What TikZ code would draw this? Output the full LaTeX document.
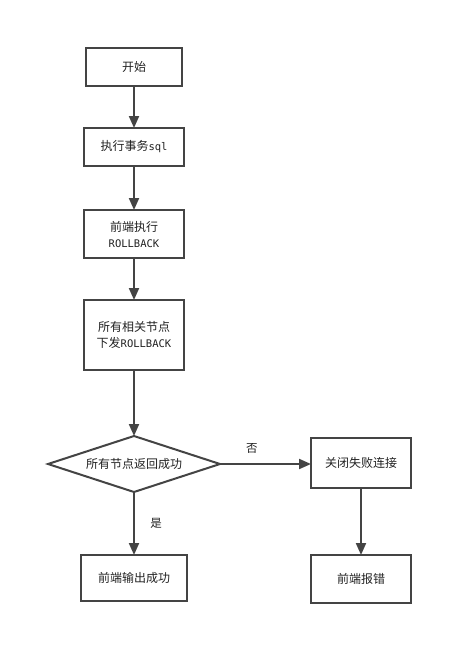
\documentclass[tikz,border=0pt]{standalone}
\usepackage{fontspec}
\setmainfont{Noto Sans CJK SC}
\newfontfamily\monofont{DejaVu Sans Mono}
\usetikzlibrary{shapes.geometric,arrows.meta}
\definecolor{ln}{HTML}{444444}
\definecolor{tx}{HTML}{222222}
\newcommand{\mono}[1]{{\monofont\fontsize{10.5}{14}\selectfont #1}}
\tikzset{
  box/.style={draw=ln, line width=2pt, fill=white, rectangle, minimum width=#1, align=center, font=\fontsize{12}{16}\selectfont, text=tx, inner sep=0pt, outer sep=0pt},
  flow/.style={draw=ln, line width=2pt, -{Triangle[length=12pt,width=10pt]}},
  lbl/.style={font=\fontsize{11.5}{14}\selectfont, text=tx}
}
\begin{document}
\begin{tikzpicture}[x=1pt,y=-1pt]
\useasboundingbox (0,0) rectangle (473,665);
\node[box=96pt, minimum height=38pt] (start) at (134,67) {开始};
\node[box=100pt, minimum height=38pt] (exec) at (134,147) {执行事务\mono{sql}};
\node[box=100pt, minimum height=48pt] (rb) at (134,234) {前端执行\\\mono{ROLLBACK}};
\node[box=100pt, minimum height=70pt] (all) at (134,335) {所有相关节点\\下发\mono{ROLLBACK}};
\node[diamond, draw=ln, line width=2pt, fill=white, minimum width=172pt, minimum height=56pt, inner sep=0pt, outer sep=0pt, font=\fontsize{12}{16}\selectfont, text=tx, aspect=3.1] (dec) at (134,464) {所有节点返回成功};
\node[box=106pt, minimum height=46pt] (ok) at (134,578) {前端输出成功};
\node[box=100pt, minimum height=50pt] (close) at (361,463) {关闭失败连接};
\node[box=100pt, minimum height=48pt] (err) at (361,579) {前端报错};
\draw[flow] (start) -- (exec);
\draw[flow] (exec) -- (rb);
\draw[flow] (rb) -- (all);
\draw[flow] (all) -- (dec);
\draw[flow] (dec) -- node[lbl, right=12pt, pos=0.5] {是} (ok);
\draw[flow] (dec) -- node[lbl, above=6pt, pos=0.35] {否} (dec -| close.west);
\draw[flow] (close) -- (err);
\end{tikzpicture}
\end{document}
